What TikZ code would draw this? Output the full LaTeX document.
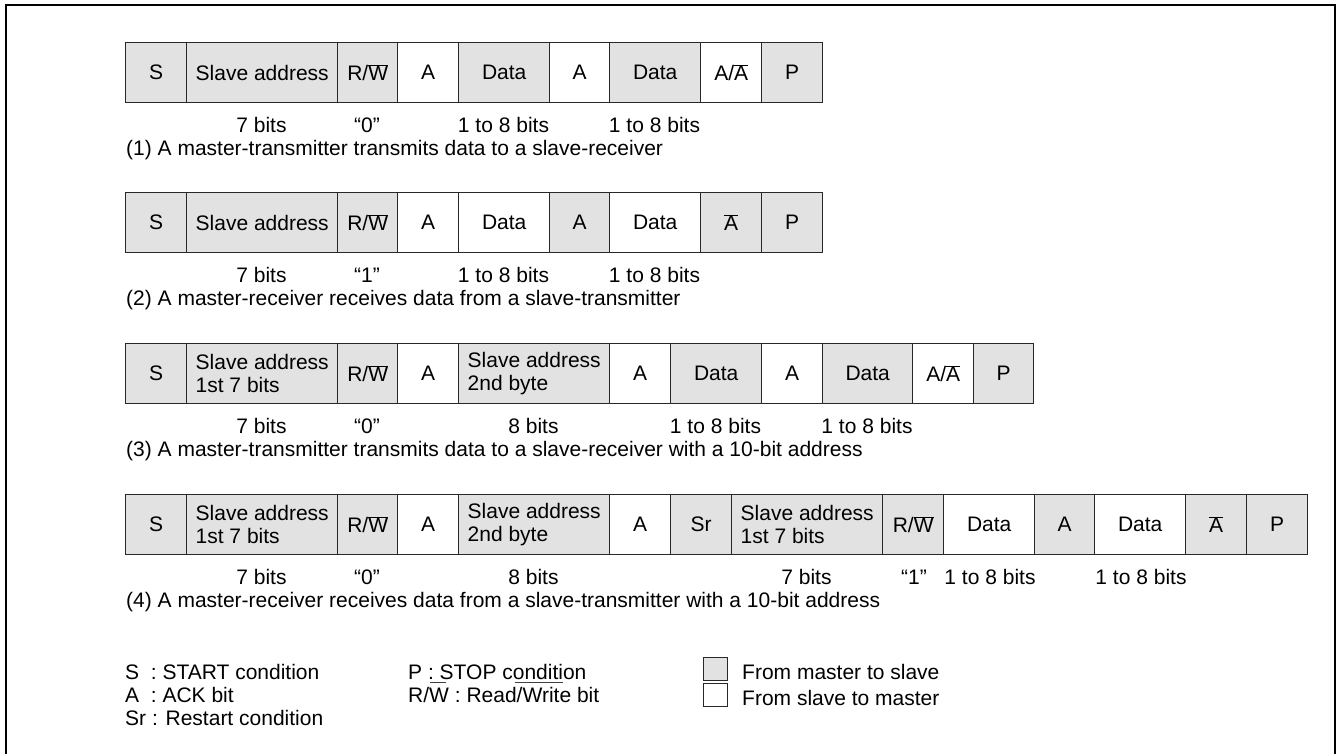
\documentclass[tikz,border=0pt]{standalone}
\usepackage{fontspec}
\setmainfont{Liberation Sans}
\newcommand\myovl[1]{\ensuremath{\overline{\hbox{#1}}}}
\definecolor{cellgray}{RGB}{226,226,226}
\definecolor{cellline}{RGB}{40,40,40}
\begin{document}
\begin{tikzpicture}[x=1pt,y=-1pt,
  cellbase/.style={draw=cellline, line width=1.4pt, anchor=north west, inner sep=0pt,
    minimum height=60pt, align=left, font=\fontsize{21}{23}\selectfont},
  gcell/.style={cellbase, fill=cellgray},
  wcell/.style={cellbase, fill=white},
  lbl/.style={anchor=base, inner sep=0pt, font=\fontsize{21}{23}\selectfont},
  captxt/.style={anchor=base west, inner sep=0pt, font=\fontsize{21}{23}\selectfont},
  legbox/.style={draw=cellline, line width=1pt, anchor=north west, inner sep=0pt,
    minimum width=24pt, minimum height=23pt}]
\useasboundingbox (0,0) rectangle (1337,753);
\begin{scope}
\clip (0,0) rectangle (1337,753);
\draw[line width=2pt] (6,5) rectangle (1335,800);
\end{scope}

% ---------- Row 1 ----------
\node[gcell, minimum width=61pt]  (a1) at (125,42) {S};
\node[gcell, minimum width=151pt] (a2) at (186,42) {Slave address};
\node[gcell, minimum width=60pt]  (a3) at (337,42) {R/\myovl{W}};
\node[wcell, minimum width=61pt]  (a4) at (397,42) {A};
\node[gcell, minimum width=91pt]  (a5) at (458,42) {Data};
\node[wcell, minimum width=60pt]  (a6) at (549,42) {A};
\node[gcell, minimum width=91pt]  (a7) at (609,42) {Data};
\node[wcell, minimum width=61pt]  (a8) at (700,42) {A/\myovl{A}};
\node[gcell, minimum width=61pt]  (a9) at (761,42) {P};
\node[lbl] (la1) at (261.5,132.5) {7 bits};
\node[lbl] (la2) at (367,132.5) {“0”};
\node[lbl] (la3) at (503.5,132.5) {1 to 8 bits};
\node[lbl] (la4) at (654.5,132.5) {1 to 8 bits};
\node[captxt] (ca) at (126,155.5) {(1) A master-transmitter transmits data to a slave-receiver};

% ---------- Row 2 ----------
\node[gcell, minimum width=61pt]  (b1) at (125,192) {S};
\node[gcell, minimum width=151pt] (b2) at (186,192) {Slave address};
\node[gcell, minimum width=60pt]  (b3) at (337,192) {R/\myovl{W}};
\node[wcell, minimum width=61pt]  (b4) at (397,192) {A};
\node[wcell, minimum width=91pt]  (b5) at (458,192) {Data};
\node[gcell, minimum width=60pt]  (b6) at (549,192) {A};
\node[wcell, minimum width=91pt]  (b7) at (609,192) {Data};
\node[gcell, minimum width=61pt]  (b8) at (700,192) {\myovl{A}};
\node[gcell, minimum width=61pt]  (b9) at (761,192) {P};
\node[lbl] (lb1) at (261.5,282.5) {7 bits};
\node[lbl] (lb2) at (367,282.5) {“1”};
\node[lbl] (lb3) at (503.5,282.5) {1 to 8 bits};
\node[lbl] (lb4) at (654.5,282.5) {1 to 8 bits};
\node[captxt] (cb) at (126,305.5) {(2) A master-receiver receives data from a slave-transmitter};

% ---------- Row 3 ----------
\node[gcell, minimum width=61pt]  (c1) at (125,343) {S};
\node[gcell, minimum width=151pt] (c2) at (186,343) {Slave address\\1st 7 bits};
\node[gcell, minimum width=60pt]  (c3) at (337,343) {R/\myovl{W}};
\node[wcell, minimum width=61pt]  (c4) at (397,343) {A};
\node[gcell, minimum width=151pt] (c5) at (458,343) {Slave address\\2nd byte};
\node[wcell, minimum width=61pt]  (c6) at (609,343) {A};
\node[gcell, minimum width=91pt]  (c7) at (670,343) {Data};
\node[wcell, minimum width=61pt]  (c8) at (761,343) {A};
\node[gcell, minimum width=90pt]  (c9) at (822,343) {Data};
\node[wcell, minimum width=61pt]  (c10) at (912,343) {A/\myovl{A}};
\node[gcell, minimum width=60pt]  (c11) at (973,343) {P};
\node[lbl] (lc1) at (261.5,433.5) {7 bits};
\node[lbl] (lc2) at (367,433.5) {“0”};
\node[lbl] (lc3) at (533.5,433.5) {8 bits};
\node[lbl] (lc4) at (715.5,433.5) {1 to 8 bits};
\node[lbl] (lc5) at (867,433.5) {1 to 8 bits};
\node[captxt] (cc) at (126,456.5) {(3) A master-transmitter transmits data to a slave-receiver with a 10-bit address};

% ---------- Row 4 ----------
\node[gcell, minimum width=61pt]  (d1) at (125,494) {S};
\node[gcell, minimum width=151pt] (d2) at (186,494) {Slave address\\1st 7 bits};
\node[gcell, minimum width=60pt]  (d3) at (337,494) {R/\myovl{W}};
\node[wcell, minimum width=61pt]  (d4) at (397,494) {A};
\node[gcell, minimum width=151pt] (d5) at (458,494) {Slave address\\2nd byte};
\node[wcell, minimum width=61pt]  (d6) at (609,494) {A};
\node[gcell, minimum width=61pt]  (d7) at (670,494) {Sr};
\node[gcell, minimum width=151pt] (d8) at (731,494) {Slave address\\1st 7 bits};
\node[gcell, minimum width=61pt]  (d9) at (882,494) {R/\myovl{W}};
\node[wcell, minimum width=91pt]  (d10) at (943,494) {Data};
\node[gcell, minimum width=60pt]  (d11) at (1034,494) {A};
\node[wcell, minimum width=91pt]  (d12) at (1094,494) {Data};
\node[gcell, minimum width=61pt]  (d13) at (1185,494) {\myovl{A}};
\node[gcell, minimum width=61pt]  (d14) at (1246,494) {P};
\node[lbl] (ld1) at (261.5,584.5) {7 bits};
\node[lbl] (ld2) at (367,584.5) {“0”};
\node[lbl] (ld3) at (533.5,584.5) {8 bits};
\node[lbl] (ld4) at (806.5,584.5) {7 bits};
\node[lbl] (ld5) at (914,584.5) {“1”};
\node[lbl] (ld6) at (990,584.5) {1 to 8 bits};
\node[lbl] (ld7) at (1141,584.5) {1 to 8 bits};
\node[captxt] (cd) at (126,607.5) {(4) A master-receiver receives data from a slave-transmitter with a 10-bit address};

% ---------- Legend ----------
\node[captxt] (k1) at (125,679.5) {S\ \ : START condition};
\node[captxt] (k2) at (125,702.5) {A\ \ : ACK bit};
\node[captxt] (k3) at (125,725.5) {Sr : Restart condition};
\node[captxt] (k4) at (408,679.5) {P : STOP condition};
\node[captxt] (k5) at (408,702.5) {R/W : Read/Write bit};
\draw[line width=0.9pt, black!75] (430,682) -- (446,682);
\draw[line width=0.9pt, black!75] (515,682) -- (563,682);
\node[legbox, fill=cellgray] (m1) at (703,657) {};
\node[legbox, fill=white] (m2) at (703,683) {};
\node[captxt] (t1) at (742,679.5) {From master to slave};
\node[captxt] (t2) at (742,705.5) {From slave to master};
\end{tikzpicture}
\end{document}
